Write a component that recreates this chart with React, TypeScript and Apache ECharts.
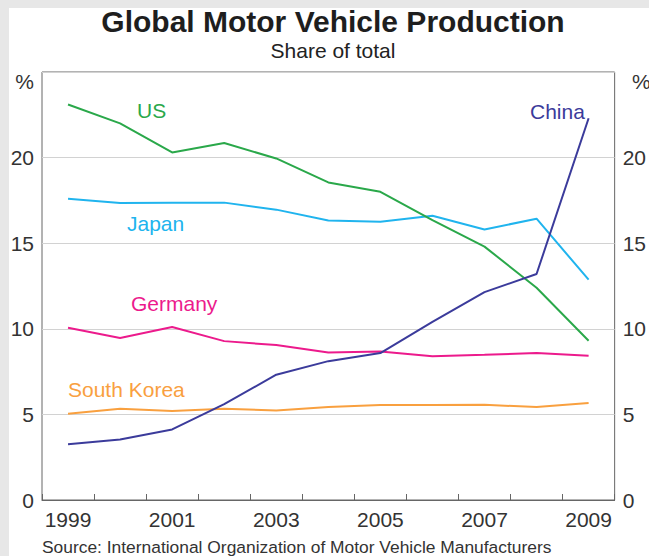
import React, { useEffect, useRef } from "react";
import * as echarts from "echarts";

const years = ["1999", "2000", "2001", "2002", "2003", "2004", "2005", "2006", "2007", "2008", "2009"];
const us = [23.1, 22.0, 20.3, 20.85, 19.95, 18.55, 18.0, 16.35, 14.8, 12.4, 9.3];
const japan = [17.6, 17.35, 17.37, 17.37, 16.96, 16.33, 16.25, 16.6, 15.8, 16.43, 12.87];
const germany = [10.06, 9.46, 10.1, 9.28, 9.05, 8.62, 8.68, 8.39, 8.48, 8.58, 8.42];
const southKorea = [5.04, 5.33, 5.2, 5.33, 5.23, 5.43, 5.55, 5.55, 5.56, 5.43, 5.66];
const china = [3.25, 3.54, 4.12, 5.6, 7.32, 8.11, 8.58, 10.4, 12.14, 13.2, 22.3];

const FONT = "'Liberation Sans', Arial, Helvetica, sans-serif";

export default function App() {
  const ref = useRef<HTMLDivElement>(null);

  useEffect(() => {
    document.body.style.margin = "0";
    if (!ref.current) return;
    const chart = echarts.init(ref.current, null, { renderer: "svg" });

    const mkSeries = (name: string, data: number[], color: string) => ({
      name,
      type: "line",
      data,
      symbol: "none",
      lineStyle: { color, width: 2 },
      itemStyle: { color },
      z: 3,
    });

    const label = (text: string, x: number, y: number, color: string) => ({
      type: "text",
      x,
      y,
      style: { text, fill: color, font: `21px ${FONT}`, textVerticalAlign: "middle" },
      z: 10,
    });

    chart.setOption({
      animation: false,
      textStyle: { fontFamily: FONT },
      grid: {
        left: 42,
        right: 25,
        top: 72,
        bottom: 56,
        show: true,
        borderColor: "#666",
        borderWidth: 1,
        backgroundColor: "transparent",
      },
      graphic: [
        { type: "rect", shape: { x: 9, y: 8, width: 640, height: 548 }, style: { fill: "#fff" }, z: -10 },
        {
          type: "text",
          x: 333,
          y: 21,
          style: { text: "Global Motor Vehicle Production", fill: "#1e1e1e", font: `bold 30px ${FONT}`, textAlign: "center", textVerticalAlign: "middle" },
        },
        {
          type: "text",
          x: 333,
          y: 50,
          style: { text: "Share of total", fill: "#222", font: `21px ${FONT}`, textAlign: "center", textVerticalAlign: "middle" },
        },
        {
          type: "text",
          x: 34,
          y: 81,
          style: { text: "%", fill: "#333", font: `21px ${FONT}`, textAlign: "right", textVerticalAlign: "middle" },
        },
        {
          type: "text",
          x: 632,
          y: 81,
          style: { text: "%", fill: "#333", font: `21px ${FONT}`, textAlign: "left", textVerticalAlign: "middle" },
        },
        {
          type: "text",
          x: 42,
          y: 547,
          style: { text: "Source: International Organization of Motor Vehicle Manufacturers", fill: "#333", font: `17.4px ${FONT}`, textVerticalAlign: "middle" },
        },
        label("US", 137, 110, "#2aa84a"),
        label("Japan", 127, 223, "#20b4ee"),
        label("Germany", 131, 303, "#ec1a8c"),
        label("South Korea", 68, 389, "#f9a03f"),
        label("China", 530, 111, "#3b3b9b"),
      ],
      xAxis: {
        type: "category",
        data: years,
        boundaryGap: true,
        axisLine: { show: true, lineStyle: { color: "#666", width: 1 } },
        axisTick: { show: true, inside: true, length: 6, interval: 0, lineStyle: { color: "#666" } },
        axisLabel: { interval: 1, fontSize: 21, color: "#333", margin: 9, fontFamily: FONT },
        splitLine: { show: false },
      },
      yAxis: [
        {
          type: "value",
          min: 0,
          max: 25,
          interval: 5,
          position: "left",
          axisLine: { show: false },
          axisTick: { show: false },
          axisLabel: {
            fontSize: 21,
            color: "#333",
            margin: 8,
            fontFamily: FONT,
            formatter: (v: number) => (v === 25 ? "" : String(v)),
          },
          splitLine: { show: true, lineStyle: { color: "#d2d2d2", width: 1 } },
        },
        {
          type: "value",
          min: 0,
          max: 25,
          interval: 5,
          position: "right",
          axisLine: { show: false },
          axisTick: { show: false },
          axisLabel: {
            fontSize: 21,
            color: "#333",
            margin: 8,
            fontFamily: FONT,
            formatter: (v: number) => (v === 25 ? "" : String(v)),
          },
          splitLine: { show: false },
        },
      ],
      series: [
        mkSeries("South Korea", southKorea, "#f9a03f"),
        mkSeries("Germany", germany, "#ec1a8c"),
        mkSeries("Japan", japan, "#20b4ee"),
        mkSeries("US", us, "#2aa84a"),
        mkSeries("China", china, "#3b3b9b"),
      ],
    });

    return () => chart.dispose();
  }, []);

  return <div ref={ref} style={{ width: 649, height: 556, background: "#e7e7e7" }} />;
}
